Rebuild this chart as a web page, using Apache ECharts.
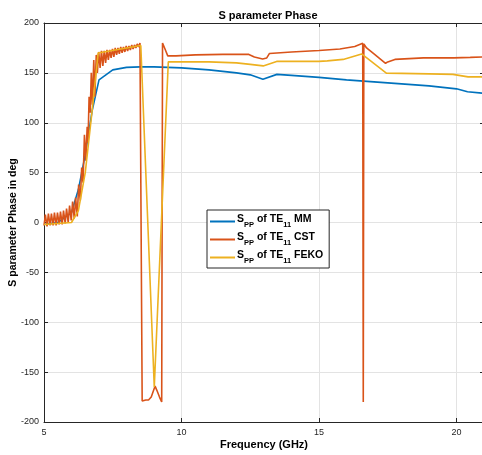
<!DOCTYPE html>
<html>
<head>
<meta charset="utf-8">
<script src="https://cdn.jsdelivr.net/npm/echarts@6/dist/echarts.min.js"></script>
<style>html,body{margin:0;padding:0;background:#fff;}#c{width:482px;height:455px;}</style>
</head>
<body>
<div id="c"></div>
<script>
// ---- data ----
const mmFreq = [5.0,5.5,6.0,6.25,6.5,6.75,7.0,7.5,8.0,8.5,9.0,9.5,10.0,11.0,12.0,12.5,12.96,13.47,14.0,15.0,16.0,17.0,18.0,19.0,20.0,20.4,21.0];
const mmPhase = [-2,0,10,33,68,112,143,153,155.5,156,156,155.5,155,153,150,148,143.5,148.5,147.5,145.5,143,141,139,137,134,131,129.5];

const cstFreq = [5.00,5.05,5.11,5.16,5.22,5.27,5.33,5.38,5.44,5.49,5.55,5.60,5.66,5.71,5.77,5.82,5.88,5.93,5.99,6.04,6.10,6.15,6.21,6.26,6.32,6.37,6.42,6.47,6.52,6.57,6.60,6.64,6.68,6.72,6.76,6.81,6.85,6.90,6.94,6.99,7.04,7.09,7.14,7.19,7.24,7.29,7.34,7.39,7.44,7.49,7.54,7.59,7.64,7.69,7.74,7.79,7.84,7.89,7.94,7.99,8.04,8.09,8.14,8.19,8.24,8.29,8.34,8.39,8.44,8.49,8.53,8.55,8.57,8.62,8.70,8.80,8.90,8.97,9.04,9.10,9.20,9.28,9.31,9.40,9.50,9.56,9.80,10.5,11.5,12.45,12.65,12.95,13.1,13.2,14.0,15.0,15.76,16.3,16.59,16.61,16.63,16.73,17.0,17.42,17.5,17.76,18.8,19.9,20.5,21.0];
const cstPhase = [-3,8,-4,9,-3,9,-3,10,-3,10,-2,11,-2,12,-1,14,0,17,2,21,4,25,6,38,22,55,40,88,62,96,80,126,110,150,118,163,126,168,150,171,155,172,157,172,160,173,163,173,165,174,166,175,168,175,169,176,170,176,171,177,172,177,173,178,174,178,175,179,176,180,178,180,-179,-180,-178,-178,-175,-173,-164,-168,-175,-180,180,174,167,166,167,168,168.5,168.5,166,164,165,169.5,171,172.5,174,176.5,179.6,-180,179,175,169,159.6,161,163.5,165,165,165.5,166];

const fekoFreq = [5.0,5.5,6.0,6.25,6.5,6.75,6.97,8.52,9.01,9.52,10.0,11.0,11.5,12.0,12.5,12.97,13.46,14.0,15.0,15.3,15.88,16.55,17.46,18.0,19.0,19.87,20.42,21.0];
const fekoPhase = [-2,-1,0,12,50,112,170,177.5,-165,161,161,161,160.5,160,158.5,157,161.5,161.5,161.5,162,163.5,169,149.6,149.5,149,148.5,146,146];

const seriesNames = ['MM','CST','FEKO'];
const xTicks = {min:5, max:21, interval:5};
const yTicks = {min:-200, max:200, interval:50};

function zip(a,b){ return a.map((v,i)=>[v,b[i]]); }

const colors = ['#0072BD','#D95319','#EDB120'];
const font = 'Liberation Sans, Arial, Helvetica, sans-serif';
const chart = echarts.init(document.getElementById('c'), null, {renderer:'canvas'});
const axisCol = '#262626';

chart.setOption({
  animation:false,
  backgroundColor:'#fff',
  title:{text:'S parameter Phase', left:263, top:5, textAlign:'center',
    textStyle:{fontFamily:font, fontSize:11, fontWeight:'bold', color:'#000'}},
  grid:{left:44, top:23, width:440, height:399, containLabel:false, outerBoundsMode:'none'},
  legend:{
    orient:'vertical', left:207, top:210,
    data: seriesNames.map(n=>'S_PP of TE_11 '+n),
    icon:'rect',
    backgroundColor:'#fff', borderColor:'#262626', borderWidth:1,
    padding:[4,6,3,3], itemGap:3, itemWidth:25, itemHeight:2,
    formatter: function(name){
      const tail = name.split(' ').pop();
      return '{n|S}{s|PP}{n| of TE}{s|11}{n| '+tail+'}';
    },
    textStyle:{fontFamily:font, color:'#000', padding:[0,0,0,-3],
      rich:{
        n:{fontFamily:font, fontSize:10.5, fontWeight:'bold', color:'#000', lineHeight:15, verticalAlign:'top'},
        s:{fontFamily:font, fontSize:7.5, fontWeight:'bold', color:'#000', lineHeight:15, verticalAlign:'bottom', padding:[5,0,0,0]}
      }}
  },
  xAxis:[{
    type:'value', min:xTicks.min, max:xTicks.max, interval:xTicks.interval,
    name:'Frequency (GHz)', nameLocation:'middle', nameGap:17, nameMoveOverlap:false,
    nameTextStyle:{fontFamily:font, fontSize:11, fontWeight:'bold', color:'#000'},
    axisLine:{show:true, onZero:false, lineStyle:{color:axisCol, width:1}},
    axisTick:{show:true, inside:true, length:4, lineStyle:{color:axisCol}},
    axisLabel:{fontFamily:font, fontSize:9, color:'#262626', margin:6, showMaxLabel:false},
    splitLine:{show:true, lineStyle:{color:'#e3e3e3', width:1}}
  },{
    type:'value', position:'top', min:xTicks.min, max:xTicks.max, interval:xTicks.interval,
    axisLine:{show:true, onZero:false, lineStyle:{color:axisCol, width:1}},
    axisTick:{show:true, inside:true, length:4, lineStyle:{color:axisCol}},
    axisLabel:{show:false}, splitLine:{show:false}
  }],
  yAxis:[{
    type:'value', min:yTicks.min, max:yTicks.max, interval:yTicks.interval,
    name:'S parameter Phase in deg', nameLocation:'middle', nameGap:25, nameMoveOverlap:false,
    nameTextStyle:{fontFamily:font, fontSize:10.5, fontWeight:'bold', color:'#000'},
    axisLine:{show:true, onZero:false, lineStyle:{color:axisCol, width:1}},
    axisTick:{show:true, inside:true, length:4, lineStyle:{color:axisCol}},
    axisLabel:{fontFamily:font, fontSize:9, color:'#262626', margin:5},
    splitLine:{show:true, lineStyle:{color:'#e3e3e3', width:1}}
  },{
    type:'value', position:'right', min:yTicks.min, max:yTicks.max, interval:yTicks.interval,
    axisLine:{show:true, onZero:false, lineStyle:{color:axisCol, width:1}},
    axisTick:{show:true, inside:true, length:4, lineStyle:{color:axisCol}},
    axisLabel:{show:false}, splitLine:{show:false}
  }],
  series:[
    {name:'S_PP of TE_11 MM', type:'line', data:zip(mmFreq,mmPhase), symbol:'none', lineStyle:{color:colors[0], width:1.6}, itemStyle:{color:colors[0]}},
    {name:'S_PP of TE_11 CST', type:'line', data:zip(cstFreq,cstPhase), symbol:'none', lineStyle:{color:colors[1], width:1.6}, itemStyle:{color:colors[1]}},
    {name:'S_PP of TE_11 FEKO', type:'line', data:zip(fekoFreq,fekoPhase), symbol:'none', lineStyle:{color:colors[2], width:1.6}, itemStyle:{color:colors[2]}}
  ]
});
</script>
</body>
</html>
